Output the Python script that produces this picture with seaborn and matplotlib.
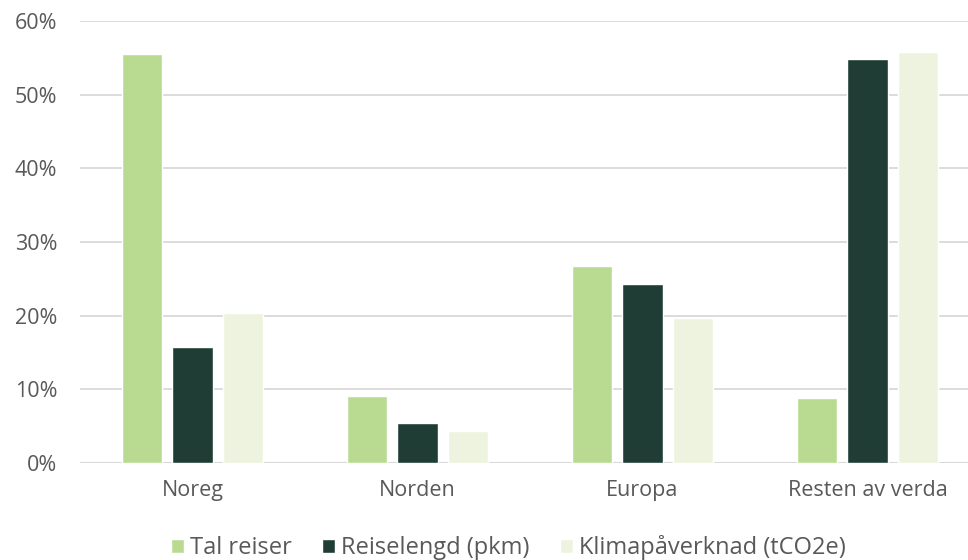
import matplotlib
matplotlib.use('Agg')
import matplotlib.pyplot as plt
import seaborn as sns
import pandas as pd
from matplotlib.ticker import PercentFormatter

regions = ['Noreg', 'Norden', 'Europa', 'Resten av verda']
series = ['Tal reiser', 'Reiselengd (pkm)', 'Klimapåverknad (tCO2e)']
tal_reiser = [55.5, 9.1, 26.7, 8.8]
reiselengd = [15.7, 5.4, 24.3, 54.8]
klima = [20.4, 4.3, 19.7, 55.8]
colors = ['#B9DB91', '#1F3D35', '#EEF3E0']

df = pd.DataFrame({
    'region': regions * 3,
    'serie': [s for s in series for _ in regions],
    'verdi': tal_reiser + reiselengd + klima,
})

sns.set_style('white')
plt.rcParams['font.family'] = ['Open Sans', 'DejaVu Sans']

fig = plt.figure(figsize=(9.68, 5.6), dpi=100)
# plot area runs a little past the right edge, as in the original
ax = fig.add_axes([80 / 968, 1 - 463 / 560, 900 / 968, 442 / 560])

sns.barplot(data=df, x='region', y='verdi', hue='serie', palette=colors,
            width=0.667, gap=0.2, saturation=1, ax=ax)

ax.set_ylim(0, 60)
ax.set_yticks(range(0, 61, 10))
ax.yaxis.set_major_formatter(PercentFormatter(decimals=0))
ax.grid(axis='y', color='#D9D9D9', linewidth=1.3)
ax.set_axisbelow(True)
for s in ax.spines.values():
    s.set_visible(False)
ax.axhline(0, color='#D9D9D9', linewidth=1.5, zorder=0)
ax.set_xlabel('')
ax.set_ylabel('')
ax.tick_params(axis='both', length=0, labelsize=15.5, labelcolor='#595959')
ax.tick_params(axis='x', pad=12)
ax.tick_params(axis='y', pad=16.5)

ax.legend(loc='center', bbox_to_anchor=(0.476, -0.192), ncol=3, frameon=False,
          fontsize=17, handlelength=0.55, handleheight=0.55, handletextpad=0.25,
          columnspacing=1.3, labelcolor='#595959')

fig.savefig('out.png', dpi=100)
